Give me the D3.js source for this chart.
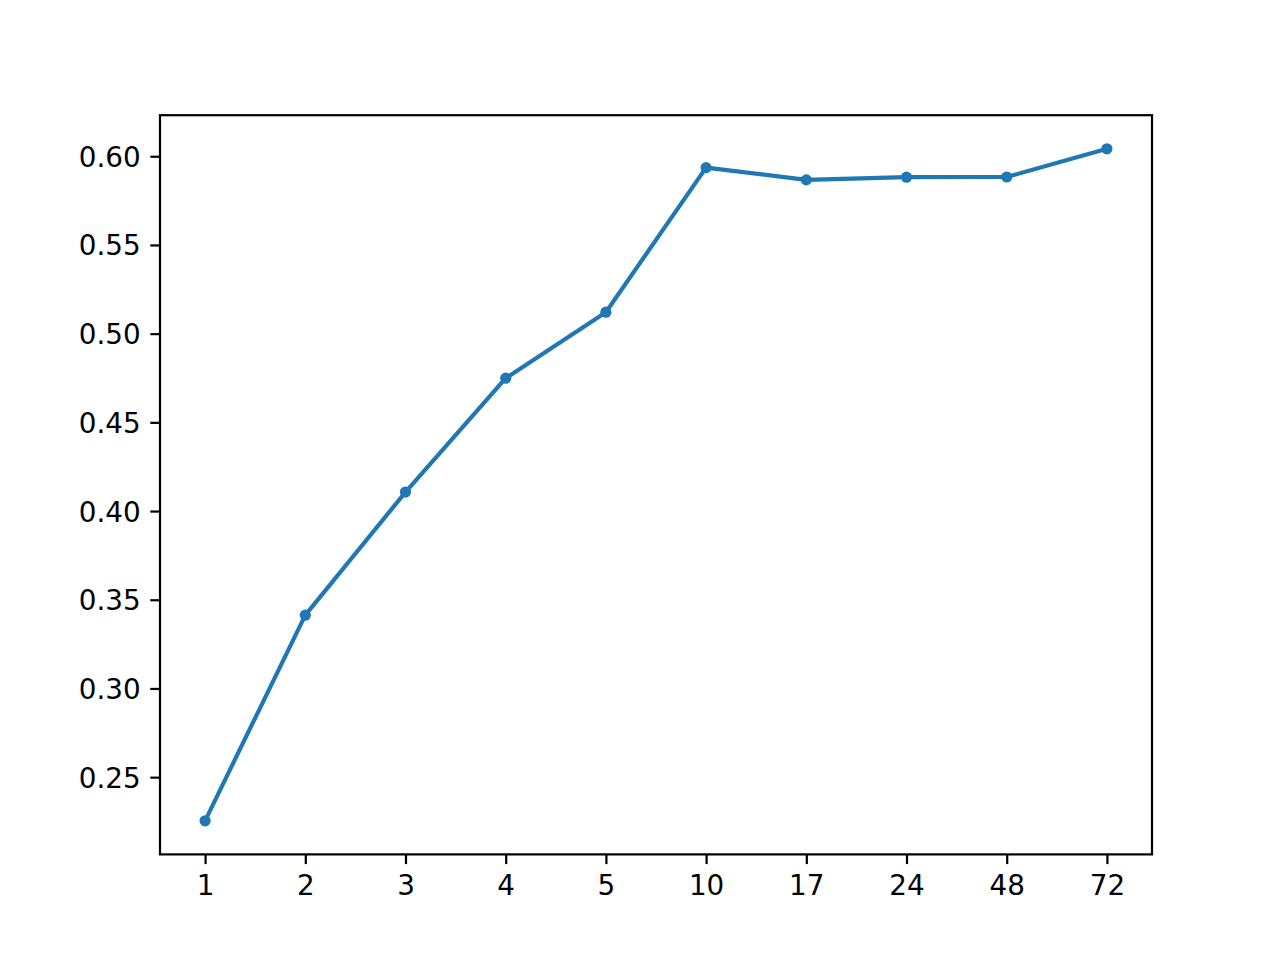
<!DOCTYPE html>
<html>
<head>
<meta charset="utf-8">
<script src="https://cdn.jsdelivr.net/npm/d3@7"></script>
<style>
  body { margin: 0; background: #fff; }
  .axis text { font-family: 'DejaVu Sans', sans-serif; font-size: 27.8px; fill: #000; }
  .axis line { stroke: #000; stroke-width: 2.2; }
  .axis path { display: none; }
</style>
</head>
<body>
<div id="chart"></div>
<script>
// data
var categories = ['1', '2', '3', '4', '5', '10', '17', '24', '48', '72']
var values = [0.2254, 0.3413, 0.4107, 0.4749, 0.5121, 0.5936, 0.5867, 0.5882, 0.5883, 0.6042]
var yTicks = [0.25, 0.30, 0.35, 0.40, 0.45, 0.50, 0.55, 0.60]

var W = 1280, H = 960
var margin = { top: 115.2, right: 128, bottom: 105.6, left: 160 }
var w = W - margin.left - margin.right
var h = H - margin.top - margin.bottom

var svg = d3.select('#chart').append('svg')
    .attr('width', W)
    .attr('height', H)
  .append('g')
    .attr('transform', 'translate(' + margin.left + ',' + margin.top + ')')

// matplotlib style 5% margins
var n = categories.length
var xPad = (n - 1) * 0.05
var xScale = d3.scaleLinear()
  .domain([-xPad, n - 1 + xPad])
  .range([0, w])

var yMin = d3.min(values), yMax = d3.max(values)
var yPad = (yMax - yMin) * 0.05
var yScale = d3.scaleLinear()
  .domain([yMin - yPad, yMax + yPad])
  .range([h, 0])

var tickLen = 9.7, tickPad = 9.7

var xAxis = d3.axisBottom(xScale)
  .tickValues(d3.range(n))
  .tickFormat(function (i) { return categories[i] })
  .tickSize(tickLen)
  .tickPadding(tickPad)

var yAxis = d3.axisLeft(yScale)
  .tickValues(yTicks)
  .tickFormat(d3.format('.2f'))
  .tickSize(tickLen)
  .tickPadding(tickPad)

svg.append('g')
    .attr('class', 'axis')
    .attr('transform', 'translate(0,' + h + ')')
    .call(xAxis)
  .selectAll('text')
    .attr('dy', '0.75em')

svg.append('g')
    .attr('class', 'axis')
    .call(yAxis)
  .selectAll('text')
    .attr('dy', '0.36em')

// line
var line = d3.line()
  .x(function (d, i) { return xScale(i) })
  .y(function (d) { return yScale(d) })

svg.append('path')
    .datum(values)
    .attr('fill', 'none')
    .attr('stroke', '#1f77b4')
    .attr('stroke-width', 4.17)
    .attr('stroke-linejoin', 'round')
    .attr('stroke-linecap', 'square')
    .attr('d', line)

svg.selectAll('circle')
    .data(values)
    .enter()
  .append('circle')
    .attr('cx', function (d, i) { return xScale(i) })
    .attr('cy', function (d) { return yScale(d) })
    .attr('r', 5.6)
    .attr('fill', '#1f77b4')

// frame
svg.append('rect')
    .attr('width', w)
    .attr('height', h)
    .attr('fill', 'none')
    .attr('stroke', '#000')
    .attr('stroke-width', 2.2)
</script>
</body>
</html>
